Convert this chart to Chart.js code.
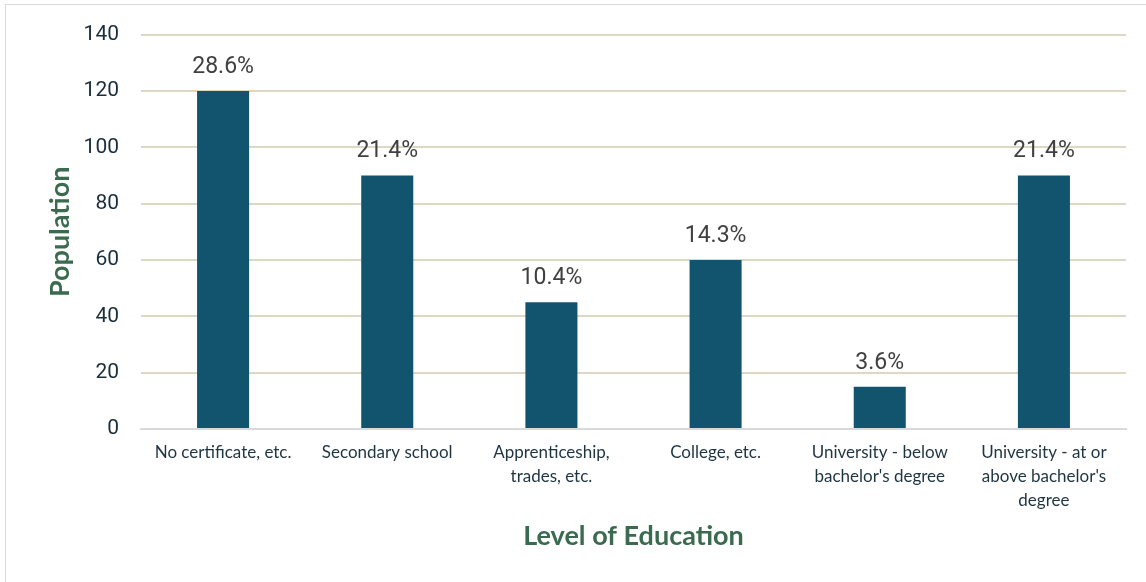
<!DOCTYPE html>
<html>
<head>
<meta charset="utf-8">
<script src="https://cdn.jsdelivr.net/npm/chart.js@4"></script>
<style>
  html, body { margin: 0; padding: 0; background: #fff; }
  body { width: 1146px; height: 582px; position: relative; overflow: hidden; }
  .frame { position: absolute; left: 5px; top: 4px; width: 1160px; height: 600px; border: 1px solid #d9d9d9; }
  .wrap { position: absolute; left: 0; top: 0; width: 1146px; height: 582px; }
</style>
</head>
<body>
<div class="frame"></div>
<div class="wrap"><canvas id="myChart" width="1146" height="582"></canvas></div>
<script>
const categories = [
  'No certificate, etc.',
  'Secondary school',
  ['Apprenticeship,', 'trades, etc.'],
  'College, etc.',
  ['University - below', "bachelor's degree"],
  ['University - at or', "above bachelor's", 'degree']
];
const population = [120, 90, 45, 60, 15, 90];
const shareLabels = ['28.6%', '21.4%', '10.4%', '14.3%', '3.6%', '21.4%'];
const yTicks = [0, 20, 40, 60, 80, 100, 120, 140];

// writes the share text above each bar
const barLabels = {
  id: 'barLabels',
  afterDatasetsDraw(chart) {
    const ctx = chart.ctx;
    const meta = chart.getDatasetMeta(0);
    ctx.save();
    ctx.font = '23px Roboto, "Liberation Sans", sans-serif';
    ctx.fillStyle = '#404040';
    ctx.textAlign = 'center';
    ctx.textBaseline = 'alphabetic';
    meta.data.forEach(function(bar, i) {
      ctx.fillText(shareLabels[i], bar.x, bar.y - 18);
    });
    ctx.restore();
  }
};

document.addEventListener('DOMContentLoaded', function() {
  const ctx = document.getElementById('myChart').getContext('2d');
  new Chart(ctx, {
    type: 'bar',
    data: {
      labels: categories,
      datasets: [{
        label: 'Population',
        data: population,
        backgroundColor: '#12546e',
        barPercentage: 0.634,
        categoryPercentage: 0.5
      }]
    },
    options: {
      responsive: false,
      animation: false,
      layout: { padding: { top: 22, right: 20, bottom: 30, left: 44 } },
      plugins: { legend: { display: false }, tooltip: { enabled: false } },
      scales: {
        x: {
          grid: { display: false, drawTicks: false },
          border: { color: '#d9d9d9', width: 2 },
          ticks: {
            color: '#1e3440',
            font: { family: 'Lato, sans-serif', size: 17, lineHeight: 1.4 },
            padding: 12,
            maxRotation: 0,
            autoSkip: false
          },
          title: {
            display: true,
            text: 'Level of Education',
            color: '#3a6b4e',
            font: { family: 'Lato, sans-serif', size: 27, weight: 'bold' },
            padding: { top: 14, bottom: 0 }
          },
          afterFit: function(axis) { axis.height = 123; }
        },
        y: {
          min: 0,
          max: 140,
          afterBuildTicks: function(axis) {
            axis.ticks = yTicks.map(function(v) { return { value: v }; });
          },
          grid: { color: '#ddd8c4', lineWidth: 2, drawTicks: false },
          border: { display: false },
          ticks: {
            color: '#1a2e3b',
            font: { family: 'Roboto, "Liberation Sans", sans-serif', size: 21 },
            padding: 22
          },
          title: {
            display: true,
            text: 'Population',
            color: '#3a6b4e',
            font: { family: 'Lato, sans-serif', size: 27, weight: 'bold' },
            padding: { top: 0, bottom: 8 }
          },
          afterFit: function(axis) { axis.width = 97; }
        }
      }
    },
    plugins: [barLabels]
  });
});
</script>
</body>
</html>
